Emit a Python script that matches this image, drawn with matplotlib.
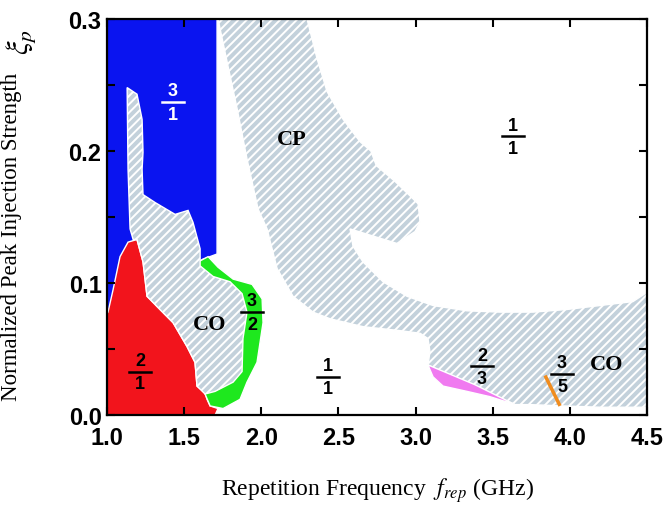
import numpy as np
import matplotlib
matplotlib.use("Agg")
import matplotlib.pyplot as plt
from matplotlib.patches import Polygon

plt.rcParams["mathtext.fontset"] = "stix"
plt.rcParams["hatch.linewidth"] = 1.4

# region boundaries (f_rep in GHz, xi_p)
blue_x = [1.0, 1.713, 1.713, 1.62, 1.25, 1.0]
blue_y = [0.3, 0.3, 0.122, 0.118, 0.09, 0.076]

red_x = [1.0, 1.0, 1.006, 1.039, 1.084, 1.136, 1.194, 1.233, 1.259, 1.343, 1.428,
         1.518, 1.570, 1.583, 1.635, 1.648, 1.668, 1.719, 1.70]
red_y = [0.0, 0.077, 0.078, 0.095, 0.120, 0.131, 0.133, 0.116, 0.090, 0.080, 0.070,
         0.052, 0.040, 0.022, 0.017, 0.012, 0.007, 0.005, 0.0]

green_x = [1.590, 1.655, 1.719, 1.817, 1.940, 2.005, 2.011, 1.972, 1.907, 1.862,
           1.752, 1.668, 1.635]
green_y = [0.116, 0.120, 0.112, 0.103, 0.099, 0.088, 0.070, 0.040, 0.025, 0.012,
           0.005, 0.007, 0.016]

co_left_x = [1.130, 1.194, 1.227, 1.233, 1.227, 1.233, 1.311, 1.441, 1.525, 1.557,
             1.603, 1.603, 1.687, 1.797, 1.875, 1.907, 1.881, 1.875, 1.817, 1.700,
             1.635, 1.583, 1.570, 1.518, 1.428, 1.343, 1.259, 1.233, 1.194, 1.169,
             1.149, 1.136]
co_left_y = [0.248, 0.243, 0.224, 0.199, 0.186, 0.167, 0.161, 0.152, 0.155, 0.146,
             0.126, 0.113, 0.105, 0.101, 0.092, 0.078, 0.058, 0.033, 0.025, 0.018,
             0.016, 0.022, 0.040, 0.052, 0.070, 0.080, 0.090, 0.116, 0.133, 0.133,
             0.141, 0.186]

cp_x = [1.719, 2.296, 2.361, 2.426, 2.530, 2.640, 2.710, 2.745, 2.866, 2.964, 3.016,
        3.029, 2.996, 2.879, 2.575, 2.594, 2.659, 2.789, 2.944, 3.113, 3.333, 3.547,
        3.761, 3.981, 4.195, 4.409, 4.500, 4.500, 4.195, 3.955, 3.741, 3.644, 3.080,
        3.093, 3.080, 3.029, 2.899, 2.659, 2.445, 2.335, 2.205, 2.102, 2.037, 1.979,
        1.907, 1.843, 1.797]
cp_y = [0.300, 0.300, 0.270, 0.245, 0.224, 0.207, 0.200, 0.189, 0.177, 0.166, 0.160,
        0.146, 0.139, 0.130, 0.141, 0.128, 0.116, 0.101, 0.090, 0.083, 0.079, 0.078,
        0.078, 0.080, 0.083, 0.086, 0.093, 0.006, 0.006, 0.007, 0.008, 0.008, 0.038,
        0.048, 0.058, 0.062, 0.064, 0.067, 0.073, 0.078, 0.090, 0.111, 0.141, 0.156,
        0.194, 0.232, 0.257]

pink_x = [3.080, 3.113, 3.178, 3.333, 3.482, 3.644, 3.385, 3.223]
pink_y = [0.038, 0.029, 0.022, 0.018, 0.014, 0.008, 0.023, 0.031]

orange_x = [3.839, 3.936]
orange_y = [0.030, 0.007]

# plot config
fig = plt.figure(figsize=(6.65, 5.10), dpi=100)
ax = fig.add_axes([0.161, 0.184, 0.812, 0.777])

gray = "#c3d1db"


def region(xs, ys, color, hatch=None):
    p = Polygon(np.column_stack([xs, ys]), closed=True, facecolor=color,
                edgecolor="white", lw=1.0, hatch=hatch)
    ax.add_patch(p)


region(blue_x, blue_y, "#0a14f0")
region(red_x, red_y, "#f2141c")
region(green_x, green_y, "#1ee81e")
region(co_left_x, co_left_y, gray, "////")
region(cp_x, cp_y, gray, "////")
region(pink_x, pink_y, "#f07af0")
ax.plot(orange_x, orange_y, color="#f08c1e", lw=2.5, solid_capstyle="butt")

# labels
def frac(x, y, num, den, color="black"):
    kw = dict(ha="center", fontsize=13, fontweight="bold", color=color,
              family="Liberation Sans", textcoords="offset points")
    ax.annotate(num, (x, y), xytext=(0, 2), va="bottom", **kw)
    ax.annotate(den, (x, y), xytext=(0, -2.5), va="top", **kw)
    ax.plot([x - 0.072, x + 0.072], [y, y], color=color, lw=1.8)


frac(1.428, 0.237, "3", "1", "white")
frac(3.631, 0.211, "1", "1")
frac(1.940, 0.078, "3", "2")
frac(1.214, 0.033, "2", "1")
frac(2.432, 0.029, "1", "1")
frac(3.430, 0.037, "2", "3")
frac(3.949, 0.031, "3", "5")

serif = dict(family="Liberation Serif", fontweight="bold", fontsize=16,
             ha="center", va="center")
ax.text(2.199, 0.209, "CP", **serif)
ax.text(1.668, 0.069, "CO", **serif)
ax.text(4.240, 0.039, "CO", **serif)

ax.set_xlim(1.0, 4.5)
ax.set_ylim(0.0, 0.3)
ax.set_xticks(np.arange(1.0, 4.51, 0.5))
ax.set_yticks([0.0, 0.1, 0.2, 0.3])
ax.set_yticks([0.05, 0.15, 0.25], minor=True)
ax.set_xticklabels(["1.0", "1.5", "2.0", "2.5", "3.0", "3.5", "4.0", "4.5"])
ax.set_yticklabels(["0.0", "0.1", "0.2", "0.3"])
for lab in ax.get_xticklabels() + ax.get_yticklabels():
    lab.set_family("Liberation Sans")
    lab.set_fontweight("bold")
    lab.set_fontsize(17)
ax.tick_params(which="both", direction="in", top=True, right=True, width=1.5)
ax.tick_params(which="major", length=6, pad=4)
ax.tick_params(axis="x", which="major", pad=8)
ax.tick_params(which="minor", length=6)
for s in ax.spines.values():
    s.set_linewidth(1.6)

ax.set_xlabel(r"Repetition Frequency  $f_{rep}$ (GHz)", family="Liberation Serif",
              fontsize=17, labelpad=19)
ax.set_ylabel("Normalized Peak Injection Strength", family="Liberation Serif",
              fontsize=16.5)
ax.yaxis.set_label_coords(-0.157, 0.452)
fig.text(22 / 665, 1 - 42 / 510, r"$\xi_p$", rotation=90, fontsize=22,
         ha="center", va="center")

plt.savefig("out.png", dpi=100)
